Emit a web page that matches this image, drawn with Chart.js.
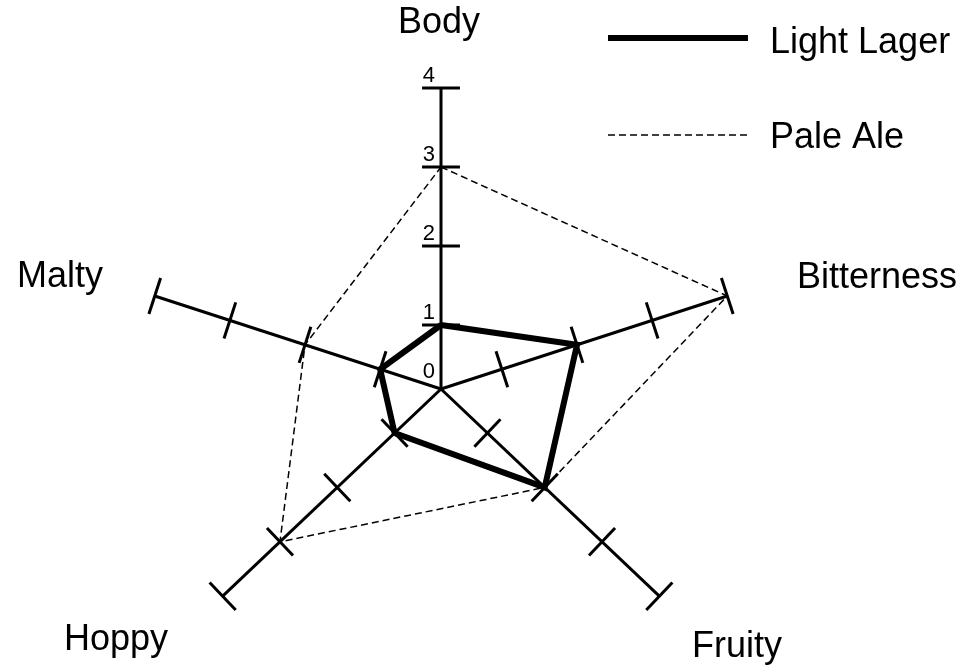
<!DOCTYPE html>
<html>
<head>
<meta charset="utf-8">
<script src="https://cdn.jsdelivr.net/npm/chart.js@4.4.1/dist/chart.umd.min.js"></script>
<style>
html,body{margin:0;padding:0;background:#fff;}
canvas{display:block;}
</style>
</head>
<body>
<canvas id="c" width="967" height="668"></canvas>
<script>
// ---- data ----
const categories = ['Body', 'Bitterness', 'Fruity', 'Hoppy', 'Malty'];
const lightLager = [1, 2, 2, 1, 1];
const paleAle = [3, 4, 2, 3, 2];
const tickValues = [1, 2, 3, 4];
const tickLabels = ['0', '1', '2', '3', '4'];
const seriesNames = ['Light Lager', 'Pale Ale'];

// ---- layout (not data) ----
const axisAngles = [90, 18, -43.5, -136.5, 162]; // degrees, per category
const radialOffset = 0.19;   // value shown at the centre
const axisMax = 4;
const tickHalf = 0.24;       // tick half length in value units
const CX = 441, CY = 389, UNIT = 79, W = 967, H = 668;

function pos(v, i) {
  const r = v - radialOffset;
  const a = axisAngles[i] * Math.PI / 180;
  return { x: r * Math.cos(a), y: r * Math.sin(a) };
}
function polygon(vals) {
  const pts = vals.map((v, i) => pos(v, i));
  pts.push(pts[0]);
  return pts;
}

const datasets = [];
datasets.push({ label: seriesNames[0], data: polygon(lightLager), borderColor: '#000', borderWidth: 6, borderJoinStyle: 'miter' });
datasets.push({ label: seriesNames[1], data: polygon(paleAle), borderColor: '#000', borderWidth: 1.5, borderDash: [7, 4] });
categories.forEach((c, i) => {
  datasets.push({ label: 'axis ' + c, data: [{ x: 0, y: 0 }, pos(axisMax, i)], borderColor: '#000', borderWidth: 3, borderCapStyle: 'butt' });
  const a = axisAngles[i] * Math.PI / 180;
  const nx = -Math.sin(a), ny = Math.cos(a);
  tickValues.forEach(t => {
    const p = pos(t, i);
    datasets.push({ label: 'tick', data: [{ x: p.x - nx * tickHalf, y: p.y - ny * tickHalf }, { x: p.x + nx * tickHalf, y: p.y + ny * tickHalf }], borderColor: '#000', borderWidth: 3, borderCapStyle: 'butt' });
  });
});
datasets.forEach(d => { d.showLine = true; d.pointRadius = 0; d.pointHoverRadius = 0; d.tension = 0; d.fill = false; });

const FONT = '"Liberation Sans", Arial, sans-serif';
const catLabelPos = [
  { x: 439, y: 33, align: 'center' },
  { x: 797, y: 288, align: 'left' },
  { x: 692, y: 657, align: 'left' },
  { x: 64, y: 650, align: 'left' },
  { x: 17, y: 287, align: 'left' }
];

const textPlugin = {
  id: 'texts',
  afterDraw(chart) {
    const ctx = chart.ctx;
    const xs = chart.scales.x, ys = chart.scales.y;
    ctx.save();
    ctx.fillStyle = '#000';
    ctx.textBaseline = 'alphabetic';
    // category labels
    ctx.font = '36px ' + FONT;
    categories.forEach((c, i) => {
      ctx.textAlign = catLabelPos[i].align;
      ctx.fillText(c, catLabelPos[i].x, catLabelPos[i].y);
    });
    // tick labels on Body axis
    ctx.font = '22px ' + FONT;
    ctx.textAlign = 'right';
    const ax = xs.getPixelForValue(0);
    tickLabels.forEach((lab) => {
      const v = Number(lab);
      let y;
      if (v === 0) y = ys.getPixelForValue(0) - 11;
      else y = ys.getPixelForValue(pos(v, 0).y) - 6;
      ctx.fillText(lab, ax - 6, y);
    });
    // legend
    const legend = [
      { y: 38, w: 6, dash: [], ty: 53 },
      { y: 135, w: 1.5, dash: [7, 4], ty: 148 }
    ];
    ctx.font = '36px ' + FONT;
    ctx.textAlign = 'left';
    legend.forEach((l, k) => {
      ctx.beginPath();
      ctx.setLineDash(l.dash);
      ctx.lineWidth = l.w;
      ctx.strokeStyle = '#000';
      ctx.moveTo(608, l.y);
      ctx.lineTo(748, l.y);
      ctx.stroke();
      ctx.setLineDash([]);
      ctx.fillText(seriesNames[k], 770, l.ty);
    });
    ctx.restore();
  }
};

new Chart(document.getElementById('c'), {
  type: 'scatter',
  data: { datasets },
  options: {
    responsive: false,
    animation: false,
    events: [],
    layout: { padding: 0, autoPadding: false },
    plugins: { legend: { display: false }, tooltip: { enabled: false } },
    scales: {
      x: { type: 'linear', display: false, min: -CX / UNIT, max: (W - CX) / UNIT },
      y: { type: 'linear', display: false, min: -(H - CY) / UNIT, max: CY / UNIT }
    },
    elements: { line: { capBezierPoints: false } }
  },
  plugins: [textPlugin]
});
</script>
</body>
</html>
